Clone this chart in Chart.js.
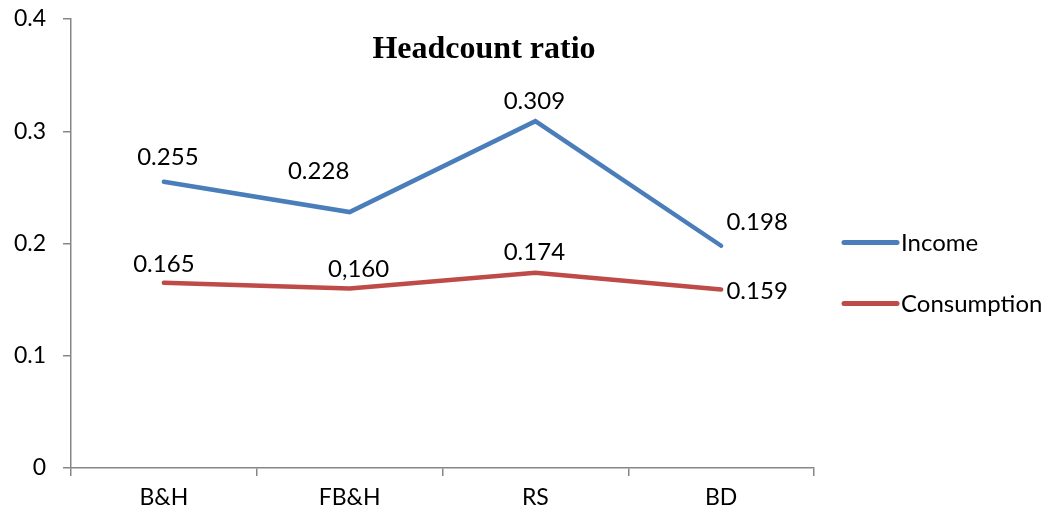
<!DOCTYPE html>
<html>
<head>
<meta charset="utf-8">
<script src="https://cdn.jsdelivr.net/npm/chart.js@4.4.1/dist/chart.umd.min.js"></script>
<style>
  html, body { margin: 0; padding: 0; background: #ffffff; }
  #chartContainer { display: block; }
</style>
</head>
<body>
<canvas id="chartContainer" width="1048" height="514"></canvas>
<script>
// chart values
const regions = ['B&H', 'FB&H', 'RS', 'BD'];
const incomeValues = [0.255, 0.228, 0.309, 0.198];
const consumptionValues = [0.165, 0.160, 0.174, 0.159];
// value labels as printed (one uses a comma)
const incomeLabels = ['0.255', '0.228', '0.309', '0.198'];
const consumptionLabels = ['0.165', '0,160', '0.174', '0.159'];
const yTicks = [0, 0.1, 0.2, 0.3, 0.4];

// where each value label sits relative to its point
const labelOffsets = [
    [[4, -24], [-31, -41], [-1, -20], [36, -23]],
    [[0, -19], [9, -19], [-1, -20], [36, 2]]
];

const axisColor = '#868686';
const font = 'Lato';

// draws the value labels next to the points
const valueLabels = {
    id: 'valueLabels',
    afterDatasetsDraw(chart) {
        const ctx = chart.ctx;
        ctx.save();
        ctx.font = '24px ' + font;
        ctx.fillStyle = '#000000';
        ctx.textAlign = 'center';
        ctx.textBaseline = 'middle';
        chart.data.datasets.forEach((ds, i) => {
            const meta = chart.getDatasetMeta(i);
            meta.data.forEach((pt, j) => {
                const off = labelOffsets[i][j];
                ctx.fillText(ds.valueText[j], pt.x + off[0], pt.y + off[1]);
            });
        });
        ctx.restore();
    }
};

// title sits inside the plot, legend to the right
const titleAndLegend = {
    id: 'titleAndLegend',
    afterDraw(chart) {
        const ctx = chart.ctx;
        const area = chart.chartArea;
        ctx.save();
        ctx.fillStyle = '#000000';
        ctx.font = 'bold 32px "Liberation Serif"';
        ctx.textAlign = 'center';
        ctx.textBaseline = 'middle';
        ctx.fillText('Headcount ratio', 484, 50);

        const x0 = area.right + 28;
        const yMid = (area.top + area.bottom) / 2 - 1;
        ctx.font = '24px ' + font;
        ctx.textAlign = 'left';
        chart.data.datasets.forEach((ds, i) => {
            const y = yMid + i * 61;
            ctx.strokeStyle = ds.borderColor;
            ctx.lineWidth = 5;
            ctx.lineCap = 'round';
            ctx.beginPath();
            ctx.moveTo(x0 + 2, y);
            ctx.lineTo(x0 + 55, y);
            ctx.stroke();
            ctx.fillText(ds.label, x0 + 59, y + 1);
        });
        ctx.restore();
    }
};

const ctx = document.getElementById('chartContainer').getContext('2d');
new Chart(ctx, {
    type: 'line',
    data: {
        labels: regions,
        datasets: [{
            label: 'Income',
            data: incomeValues,
            valueText: incomeLabels,
            borderColor: '#4A7EBB',
            borderWidth: 4.5,
            borderCapStyle: 'round',
            pointRadius: 0,
            tension: 0
        }, {
            label: 'Consumption',
            data: consumptionValues,
            valueText: consumptionLabels,
            borderColor: '#BE4B48',
            borderWidth: 4.5,
            borderCapStyle: 'round',
            pointRadius: 0,
            tension: 0
        }]
    },
    options: {
        responsive: false,
        animation: false,
        layout: {
            padding: { top: 19, right: 234, left: 0, bottom: 0 }
        },
        plugins: {
            legend: { display: false },
            title: { display: false },
            tooltip: { enabled: false }
        },
        scales: {
            x: {
                offset: true,
                grid: {
                    offset: true,
                    drawOnChartArea: false,
                    color: axisColor,
                    tickLength: 8,
                    lineWidth: 1.5
                },
                border: { color: axisColor, width: 1.5 },
                ticks: {
                    color: '#000000',
                    font: { family: font, size: 23 },
                    padding: 8,
                    maxRotation: 0
                },
                afterFit(scale) {
                    scale.height = 46;
                    scale.paddingTop = 0;
                    scale.paddingBottom = 0;
                }
            },
            y: {
                min: 0,
                max: 0.4,
                afterBuildTicks(scale) {
                    scale.ticks = yTicks.map(v => ({ value: v }));
                },
                grid: {
                    drawOnChartArea: false,
                    color: axisColor,
                    tickLength: 8,
                    lineWidth: 1.5
                },
                border: { color: axisColor, width: 1.5 },
                ticks: {
                    color: '#000000',
                    font: { family: font, size: 23 },
                    padding: 17,
                    callback: v => String(v)
                },
                afterFit(scale) {
                    scale.width = 71;
                    scale.paddingTop = 0;
                    scale.paddingBottom = 0;
                }
            }
        }
    },
    plugins: [valueLabels, titleAndLegend]
});
</script>
</body>
</html>
